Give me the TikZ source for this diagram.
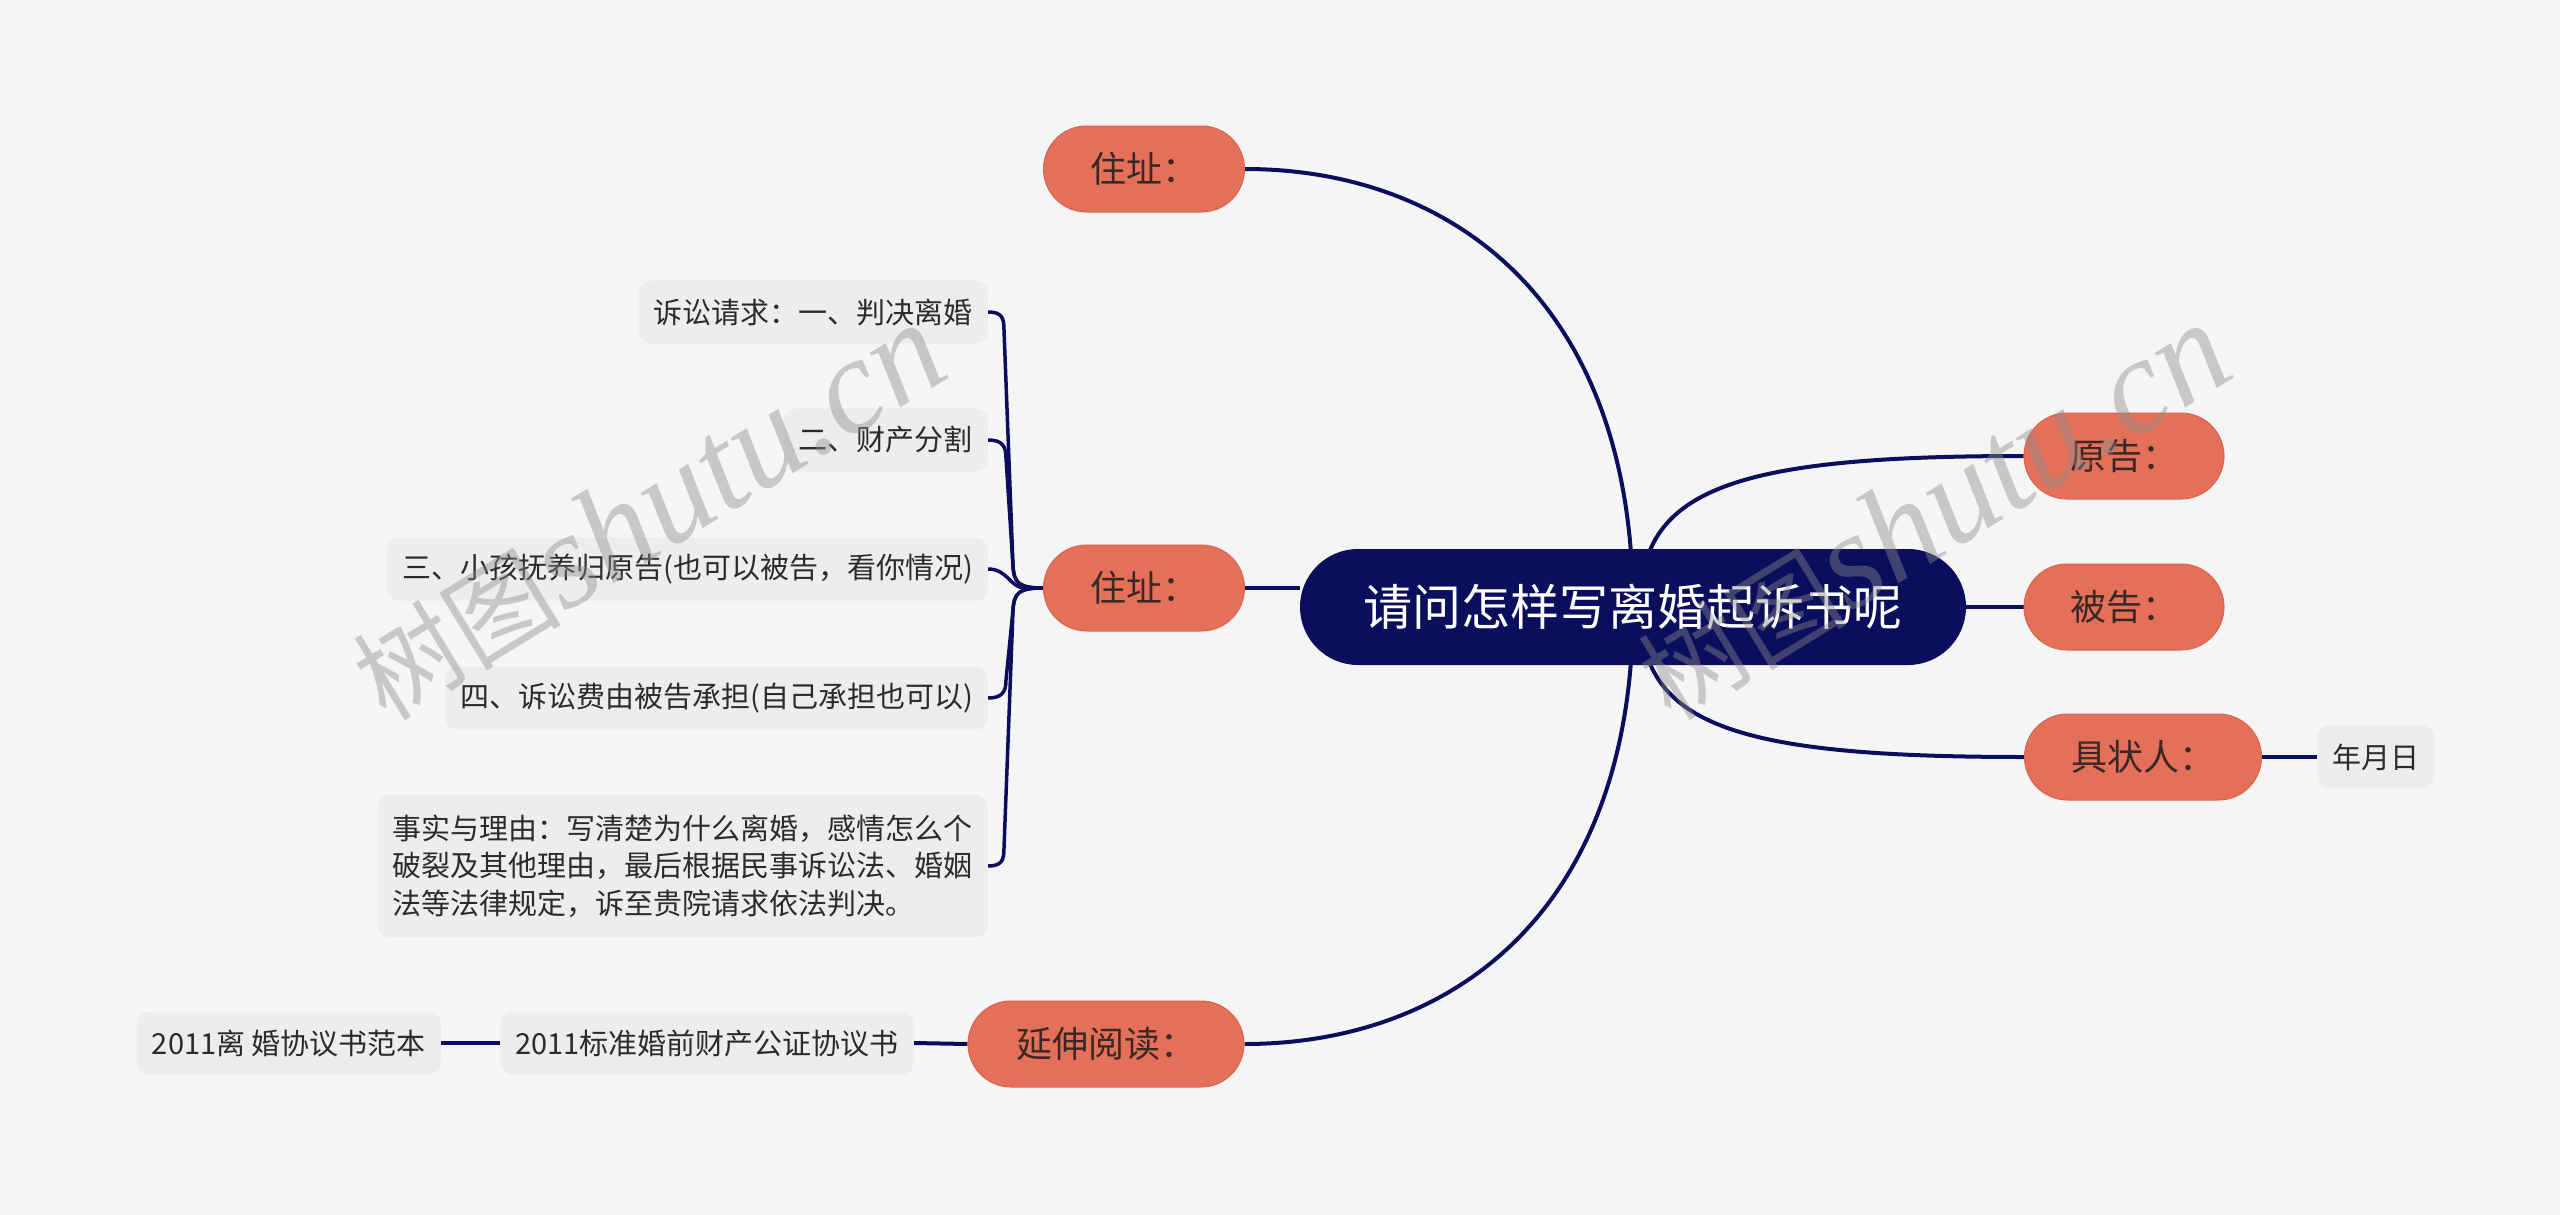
\documentclass[tikz,border=0pt]{standalone}
\usepackage{fontspec}
\setmainfont{Noto Sans CJK SC}
\newfontfamily\wmserif{Liberation Serif}
\usetikzlibrary{backgrounds}
\definecolor{bgc}{HTML}{F5F5F5}
\definecolor{navy}{HTML}{0B0E5C}
\definecolor{orng}{HTML}{E5705A}
\definecolor{orngd}{HTML}{D8644F}
\definecolor{otext}{HTML}{3B2824}
\definecolor{leaff}{HTML}{EDEDED}
\definecolor{ltext}{HTML}{2B2B2B}
\tikzset{
  rootnode/.style={fill=navy, text=white, rounded corners=58pt, minimum height=116pt,
    minimum width=666pt, inner sep=0pt, font=\fontsize{49}{60}\selectfont},
  mainnode/.style={fill=orng, draw=orngd, line width=1pt, text=otext, rounded corners=43pt,
    minimum height=86pt, inner sep=0pt, font=\fontsize{36}{44}\selectfont},
  leafnode/.style={fill=leaff, text=ltext, rounded corners=12pt, minimum height=63pt,
    inner xsep=15pt, inner ysep=0pt, font=\fontsize{29}{37.5}\selectfont},
  conn/.style={draw=navy, line width=4pt},
  wmark/.style={text=black!45, opacity=0.42, rotate=31.5, inner sep=0pt}
}
\begin{document}
\begin{tikzpicture}[x=1pt,y=-1pt]
\useasboundingbox (0,0) rectangle (2560,1215);
% root
\node[rootnode] (root) at (1633,607) {请问怎样写离婚起诉书呢};
% main branches
\node[mainnode, minimum width=201pt] (z1) at (1144,169) {住址：};
\node[mainnode, minimum width=201pt] (z2) at (1144,588) {住址：};
\node[mainnode, minimum width=200pt] (yg) at (2124,456) {原告：};
\node[mainnode, minimum width=200pt] (bg) at (2124,607) {被告：};
\node[mainnode, minimum width=237pt] (jz) at (2143,757) {具状人：};
\node[mainnode, minimum width=276pt] (yd) at (1106,1044) {延伸阅读：};
% leaves
\node[leafnode, anchor=east] (l1) at (988,312) {诉讼请求：一、判决离婚};
\node[leafnode, anchor=east] (l2) at (988,440) {二、财产分割};
\node[leafnode, anchor=east] (l3) at (988,569) {三、小孩抚养归原告(也可以被告，看你情况)};
\node[leafnode, anchor=east] (l4) at (988,698) {四、诉讼费由被告承担(自己承担也可以)};
\node[leafnode, anchor=east, align=left, inner ysep=20pt] (l5) at (988,866)
  {事实与理由：写清楚为什么离婚，感情怎么个\\破裂及其他理由，最后根据民事诉讼法、婚姻\\法等法律规定，诉至贵院请求依法判决。};
\node[leafnode, anchor=east] (r1) at (914,1043) {2011标准婚前财产公证协议书};
\node[leafnode, anchor=east] (r2) at (441,1043) {2011离 婚协议书范本};
\node[leafnode, anchor=west] (ny) at (2317,757) {年月日};
\begin{pgfonlayer}{background}
\fill[bgc] (0,0) rectangle (2560,1215);
% root connectors
\draw[conn] (root.center) .. controls (1633,300) and (1450,169) .. (z1.east);
\draw[conn] (root.center) .. controls (1633,914) and (1450,1044) .. (yd.east);
\draw[conn] (1640,607) .. controls (1640,490) and (1730,456) .. (yg.west);
\draw[conn] (1640,607) .. controls (1640,724) and (1730,757) .. (jz.west);
\draw[conn] (root.east) -- (bg.west);
\draw[conn] (z2.east) -- (z2.east -| root.west);
% left leaves
\draw[conn, line width=3.5pt] (l1.east) .. controls (1002,312) and (1004,318) .. (1004,330) -- (1013,566) .. controls (1014,584) and (1020,588) .. (z2.west);
\draw[conn, line width=3.5pt] (l2.east) .. controls (1002,440) and (1006,446) .. (1006,458) -- (1013,566) .. controls (1014,584) and (1020,588) .. (z2.west);
\draw[conn, line width=3.5pt] (l3.east) .. controls (1008,569) and (1010,588) .. (1025,588) -- (z2.west);
\draw[conn, line width=3.5pt] (l4.east) .. controls (1002,698) and (1006,692) .. (1006,680) -- (1013,610) .. controls (1014,592) and (1020,588) .. (z2.west);
\draw[conn, line width=3.5pt] (l5.east) .. controls (1002,866) and (1004,860) .. (1004,848) -- (1013,610) .. controls (1014,592) and (1020,588) .. (z2.west);
% bottom chain
\draw[conn] (yd.west) -- (r1.east);
\draw[conn] (r1.west) -- (r2.east);
\draw[conn] (jz.east) -- (ny.west);
\end{pgfonlayer}
% watermarks
\node[wmark] (wm1) at (648,512) {{\fontsize{104}{104}\selectfont 树图}{\wmserif\itshape\fontsize{136}{136}\selectfont shutu.cn}};
\node[wmark] (wm2) at (1933,512) {{\fontsize{104}{104}\selectfont 树图}{\wmserif\itshape\fontsize{136}{136}\selectfont shutu.cn}};
\end{tikzpicture}
\end{document}
